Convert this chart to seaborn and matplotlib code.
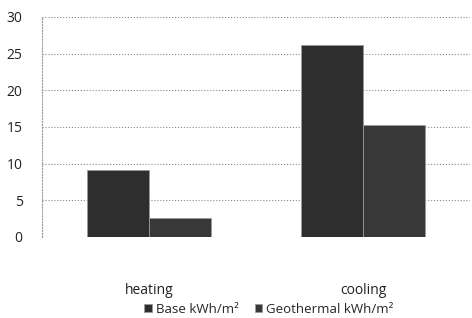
import pandas as pd
import seaborn as sns
import matplotlib.pyplot as plt

# values
categories = ['heating', 'cooling']
series = ['Base kWh/m²', 'Geothermal kWh/m²']
base_values = [9.1, 26.2]
geo_values = [2.6, 15.3]
yticks = [0, 5, 10, 15, 20, 25, 30]

data = pd.DataFrame({
    'category': categories * 2,
    'series': [series[0]] * 2 + [series[1]] * 2,
    'value': base_values + geo_values,
})

sns.set_style("white")
plt.rcParams['font.family'] = ['Open Sans', 'DejaVu Sans']

fig = plt.figure(figsize=(4.72, 3.18), dpi=100)
ax = fig.add_axes([0.089, 0.255, 0.907, 0.692])

sns.barplot(data=data, x='category', y='value', hue='series', ax=ax,
            palette=['#2e2e2e', '#383838'], width=0.58, saturation=1,
            edgecolor='#9a9a9a', linewidth=0.6)

ax.set_ylim(0, 30)
ax.set_xlim(-0.5, 1.5)
ax.set_yticks(yticks)
ax.set_yticklabels([str(t) for t in yticks], fontsize=10, color='#222222')
ax.grid(axis='y', linestyle=':', color='#888888', linewidth=0.8)
ax.set_axisbelow(True)
for side in ['top', 'right', 'bottom']:
    ax.spines[side].set_visible(False)
ax.spines['left'].set_linestyle(':')
ax.spines['left'].set_color('#999999')
ax.tick_params(axis='y', length=0, pad=14)
ax.tick_params(axis='x', length=0, pad=33, labelsize=10, labelcolor='#222222')
ax.set_xlabel('')
ax.set_ylabel('')

ax.legend(loc='lower center', bbox_to_anchor=(0.53, -0.37), ncol=2, frameon=False,
          fontsize=9.5, handlelength=0.6, handleheight=0.6, columnspacing=1.2,
          handletextpad=0.3, borderaxespad=0, borderpad=0.2)

fig.savefig('out.png', dpi=100)
